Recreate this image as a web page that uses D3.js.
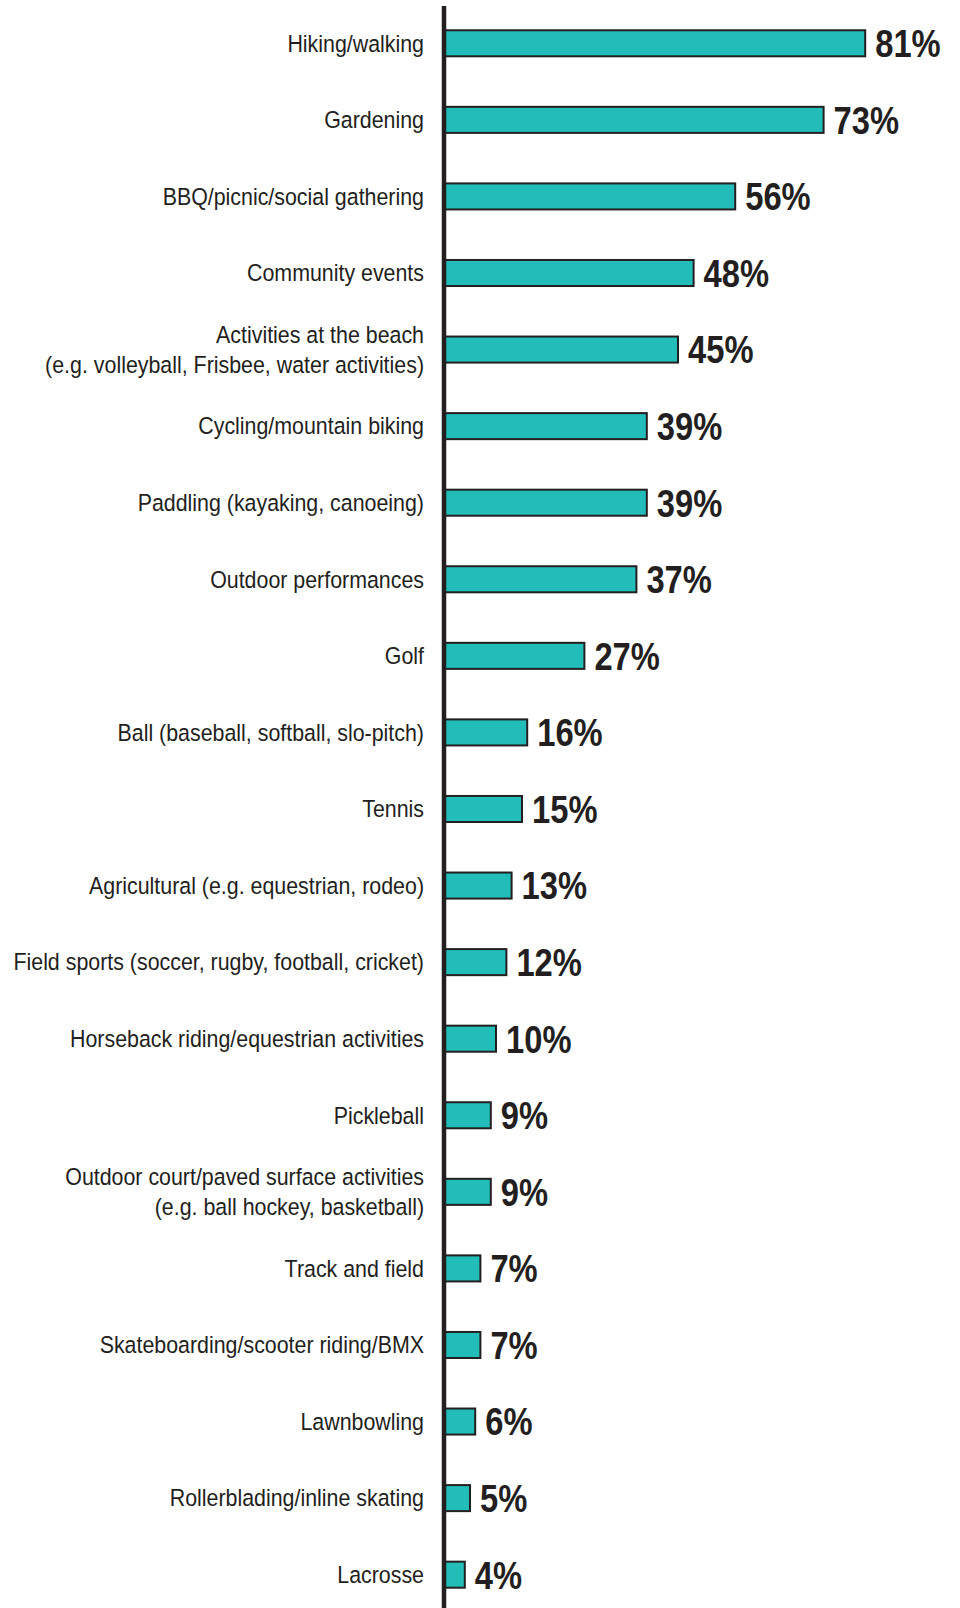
<!DOCTYPE html>
<html><head><meta charset="utf-8">
<script src="https://cdn.jsdelivr.net/npm/d3@7"></script>
<style>body{margin:0;background:#fff}</style>
</head><body>
<script>
const categories = [
  ["Hiking/walking"],
  ["Gardening"],
  ["BBQ/picnic/social gathering"],
  ["Community events"],
  ["Activities at the beach", "(e.g. volleyball, Frisbee, water activities)"],
  ["Cycling/mountain biking"],
  ["Paddling (kayaking, canoeing)"],
  ["Outdoor performances"],
  ["Golf"],
  ["Ball (baseball, softball, slo-pitch)"],
  ["Tennis"],
  ["Agricultural (e.g. equestrian, rodeo)"],
  ["Field sports (soccer, rugby, football, cricket)"],
  ["Horseback riding/equestrian activities"],
  ["Pickleball"],
  ["Outdoor court/paved surface activities", "(e.g. ball hockey, basketball)"],
  ["Track and field"],
  ["Skateboarding/scooter riding/BMX"],
  ["Lawnbowling"],
  ["Rollerblading/inline skating"],
  ["Lacrosse"]
];
const values = [81, 73, 56, 48, 45, 39, 39, 37, 27, 16, 15, 13, 12, 10, 9, 9, 7, 7, 6, 5, 4];
const valueLabels = ["81%","73%","56%","48%","45%","39%","39%","37%","27%","16%","15%","13%","12%","10%","9%","9%","7%","7%","6%","5%","4%"];

const W = 960, H = 1608;
const axisX = 444;
const svg = d3.select("body").append("svg").attr("width", W).attr("height", H);

const x = d3.scaleLinear().domain([0, 100]).range([axisX, axisX + 520]);
const y = d3.scaleBand().domain(d3.range(categories.length)).range([5, 5 + 76.57 * 21]).paddingInner(0.66).paddingOuter(0.33);

const font = "'Liberation Sans', Arial, Helvetica, sans-serif";
const ink = "#231f20";

svg.selectAll("rect.bar").data(values).join("rect")
  .attr("class", "bar")
  .attr("x", axisX)
  .attr("y", (d, i) => y(i))
  .attr("width", d => x(d) - axisX)
  .attr("height", y.bandwidth())
  .attr("fill", "#22bdb9")
  .attr("stroke", ink)
  .attr("stroke-width", 2);

svg.selectAll("text.val").data(values).join("text")
  .attr("class", "val")
  .attr("transform", (d, i) => `translate(${x(d) + 10},${y(i) + y.bandwidth() / 2}) scale(0.85,1)`)
  .attr("dy", "0.36em")
  .attr("font-family", font)
  .attr("font-weight", "bold")
  .attr("font-size", 38.5)
  .attr("fill", ink)
  .text((d, i) => valueLabels[i]);

const lab = svg.selectAll("text.lab").data(categories).join("text")
  .attr("class", "lab")
  .attr("text-anchor", "end")
  .attr("font-family", font)
  .attr("font-size", 23.5)
  .attr("fill", ink)
  .attr("transform", (d, i) => `translate(424,${y(i) + y.bandwidth() / 2}) scale(0.91,1)`);
lab.selectAll("tspan").data(d => d.map((t, j) => ({t, j, n: d.length}))).join("tspan")
  .attr("x", 0)
  .attr("dy", (d) => d.j === 0 ? (0.35 - (d.n - 1) * 0.64) + "em" : "1.28em")
  .text(d => d.t);

svg.append("line")
  .attr("x1", axisX).attr("x2", axisX)
  .attr("y1", 6).attr("y2", H)
  .attr("stroke", ink).attr("stroke-width", 4.5);
</script>
</body></html>
